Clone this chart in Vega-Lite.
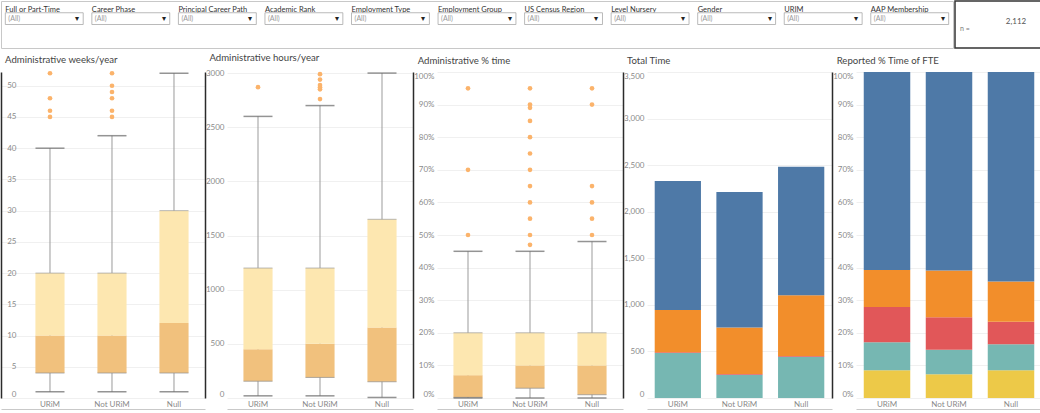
{
  "$schema": "https://vega.github.io/schema/vega-lite/v6.json",
  "padding": 0,
  "background": "white",
  "config": {
    "font": "Lato",
    "view": {"stroke": null},
    "axis": {"labelFont": "Lato", "labelFontSize": 8, "labelColor": "#8a8a8a", "ticks": false, "domain": false, "title": null, "gridColor": "#f0f0f0", "gridWidth": 1},
    "title": {"font": "Lato", "fontSize": 9.6, "fontWeight": "normal", "color": "#444444", "anchor": "start", "frame": "bounds", "offset": 6, "dx": 4},
    "text": {"font": "Lato"}
  },
  "datasets": {
    "filters": [
      {"filter": "Full or Part-Time", "selection": "(All)"},
      {"filter": "Career Phase", "selection": "(All)"},
      {"filter": "Principal Career Path", "selection": "(All)"},
      {"filter": "Academic Rank", "selection": "(All)"},
      {"filter": "Employment Type", "selection": "(All)"},
      {"filter": "Employment Group", "selection": "(All)"},
      {"filter": "US Census Region", "selection": "(All)"},
      {"filter": "Level Nursery", "selection": "(All)"},
      {"filter": "Gender", "selection": "(All)"},
      {"filter": "URIM", "selection": "(All)"},
      {"filter": "AAP Membership", "selection": "(All)"}
    ],
    "weeksStats": [
      {"g": "URiM", "lo": 1, "q1": 4, "med": 10, "q3": 20, "hi": 40},
      {"g": "Not URiM", "lo": 1, "q1": 4, "med": 10, "q3": 20, "hi": 42},
      {"g": "Null", "lo": 1, "q1": 4, "med": 12, "q3": 30, "hi": 52}
    ],
    "weeksOut": [
      {"g": "URiM", "v": 45}, {"g": "URiM", "v": 46}, {"g": "URiM", "v": 48}, {"g": "URiM", "v": 52},
      {"g": "Not URiM", "v": 45}, {"g": "Not URiM", "v": 46}, {"g": "Not URiM", "v": 48}, {"g": "Not URiM", "v": 49}, {"g": "Not URiM", "v": 50}, {"g": "Not URiM", "v": 52}
    ],
    "hoursStats": [
      {"g": "URiM", "lo": 20, "q1": 155, "med": 450, "q3": 1200, "hi": 2600},
      {"g": "Not URiM", "lo": 20, "q1": 190, "med": 500, "q3": 1200, "hi": 2700},
      {"g": "Null", "lo": 5, "q1": 150, "med": 650, "q3": 1650, "hi": 3000}
    ],
    "hoursOut": [
      {"g": "URiM", "v": 2870},
      {"g": "Not URiM", "v": 2760}, {"g": "Not URiM", "v": 2850}, {"g": "Not URiM", "v": 2870}, {"g": "Not URiM", "v": 2890}, {"g": "Not URiM", "v": 2940}, {"g": "Not URiM", "v": 2990}
    ],
    "pctStats": [
      {"g": "URiM", "lo": 0, "q1": 0.002, "med": 0.07, "q3": 0.2, "hi": 0.45},
      {"g": "Not URiM", "lo": 0, "q1": 0.03, "med": 0.1, "q3": 0.2, "hi": 0.45},
      {"g": "Null", "lo": 0, "q1": 0.01, "med": 0.1, "q3": 0.2, "hi": 0.48}
    ],
    "pctOut": [
      {"g": "URiM", "v": 0.5}, {"g": "URiM", "v": 0.7}, {"g": "URiM", "v": 0.95},
      {"g": "Not URiM", "v": 0.47}, {"g": "Not URiM", "v": 0.5}, {"g": "Not URiM", "v": 0.55}, {"g": "Not URiM", "v": 0.6}, {"g": "Not URiM", "v": 0.65}, {"g": "Not URiM", "v": 0.7}, {"g": "Not URiM", "v": 0.75}, {"g": "Not URiM", "v": 0.8}, {"g": "Not URiM", "v": 0.85}, {"g": "Not URiM", "v": 0.89}, {"g": "Not URiM", "v": 0.9}, {"g": "Not URiM", "v": 0.95},
      {"g": "Null", "v": 0.5}, {"g": "Null", "v": 0.55}, {"g": "Null", "v": 0.6}, {"g": "Null", "v": 0.65}, {"g": "Null", "v": 0.9}, {"g": "Null", "v": 0.95}
    ],
    "total": [
      {"g": "URiM", "activity": "Service", "hours": 482},
      {"g": "URiM", "activity": "Research", "hours": 10},
      {"g": "URiM", "activity": "Education", "hours": 454},
      {"g": "URiM", "activity": "Clinical", "hours": 1385},
      {"g": "Not URiM", "activity": "Service", "hours": 250},
      {"g": "Not URiM", "activity": "Research", "hours": 7},
      {"g": "Not URiM", "activity": "Education", "hours": 500},
      {"g": "Not URiM", "activity": "Clinical", "hours": 1454},
      {"g": "Null", "activity": "Service", "hours": 443},
      {"g": "Null", "activity": "Research", "hours": 7},
      {"g": "Null", "activity": "Education", "hours": 654},
      {"g": "Null", "activity": "Clinical", "hours": 1378}
    ],
    "fte": [
      {"g": "URiM", "activity": "Unallocated", "share": 0.085},
      {"g": "URiM", "activity": "Service", "share": 0.086},
      {"g": "URiM", "activity": "Research", "share": 0.108},
      {"g": "URiM", "activity": "Education", "share": 0.114},
      {"g": "URiM", "activity": "Clinical", "share": 0.607},
      {"g": "Not URiM", "activity": "Unallocated", "share": 0.073},
      {"g": "Not URiM", "activity": "Service", "share": 0.075},
      {"g": "Not URiM", "activity": "Research", "share": 0.1},
      {"g": "Not URiM", "activity": "Education", "share": 0.143},
      {"g": "Not URiM", "activity": "Clinical", "share": 0.609},
      {"g": "Null", "activity": "Unallocated", "share": 0.085},
      {"g": "Null", "activity": "Service", "share": 0.08},
      {"g": "Null", "activity": "Research", "share": 0.069},
      {"g": "Null", "activity": "Education", "share": 0.123},
      {"g": "Null", "activity": "Clinical", "share": 0.643}
    ]
  },
  "concat": [
    {
      "hconcat": [
        {
          "width": 952,
          "height": 47,
          "view": {"stroke": "#c8c8c8"},
          "data": {"name": "filters"},
          "layer": [
            {
              "mark": {"type": "text", "align": "left", "fontSize": 7.5, "color": "#333333", "dy": 3},
              "encoding": {
                "x": {"field": "filter", "type": "nominal", "sort": null, "bandPosition": 0, "scale": {"paddingInner": 0.1, "paddingOuter": 0.05}, "axis": null},
                "y": {"datum": "label", "type": "nominal", "scale": {"domain": ["label", "box", "r3", "r4"], "paddingInner": 0, "paddingOuter": 0}, "axis": null},
                "text": {"field": "filter"}
              }
            },
            {
              "mark": {"type": "rect", "fill": "white", "stroke": "#a8a8a8", "strokeWidth": 0.8},
              "encoding": {
                "x": {"field": "filter", "type": "nominal", "sort": null, "axis": null},
                "y": {"datum": "box", "type": "nominal", "axis": null}
              }
            },
            {
              "mark": {"type": "text", "align": "left", "dx": 3, "fontSize": 7, "color": "#9a9a9a"},
              "encoding": {
                "x": {"field": "filter", "type": "nominal", "sort": null, "bandPosition": 0, "axis": null},
                "y": {"datum": "box", "type": "nominal", "axis": null},
                "text": {"field": "selection"}
              }
            },
            {
              "mark": {"type": "text", "align": "center", "dx": -6, "fontSize": 8, "color": "#222222"},
              "encoding": {
                "x": {"field": "filter", "type": "nominal", "sort": null, "bandPosition": 1, "axis": null},
                "y": {"datum": "box", "type": "nominal", "axis": null},
                "text": {"value": "▾"}
              }
            }
          ]
        },
        {
          "width": 86,
          "height": 47,
          "view": {"stroke": "#333333", "strokeWidth": 1.5},
          "data": {"values": [{"label": "n =", "n": 2112}]},
          "layer": [
            {"mark": {"type": "text", "align": "left", "dx": -38, "dy": 4, "fontSize": 7, "color": "#777777"}, "encoding": {"text": {"field": "label"}}},
            {"mark": {"type": "text", "align": "center", "dx": 18, "dy": -3, "fontSize": 8, "color": "#555555"}, "encoding": {"text": {"field": "n", "type": "quantitative", "format": ","}}}
          ]
        }
      ],
      "spacing": 0
    },
    {
      "hconcat": [
        {
          "width": 204,
          "height": 326,
          "title": {"text": "Administrative weeks/year"},
          "layer": [
            {"data": {"name": "weeksStats"}, "mark": {"type": "rule", "color": "#9b9b9b", "strokeWidth": 1},
             "encoding": {"x": {"field": "g", "type": "nominal", "title": null, "scale": {"domain": ["URiM", "Not URiM", "Null"], "paddingInner": 0, "paddingOuter": 0.145, "align": 1}, "axis": {"labelAngle": 0, "labelPadding": 2, "labelBaseline": "top"}},
                          "y": {"field": "lo", "type": "quantitative", "scale": {"domain": [0, 52.2], "nice": false, "zero": false}, "axis": {"orient": "left", "values": [0, 5, 10, 15, 20, 25, 30, 35, 40, 45, 50], "grid": true, "labelFlush": true, "labelAlign": "right", "labelPadding": -15, "minExtent": 0, "maxExtent": 0, "domain": true, "domainColor": "#2b2b2b", "domainWidth": 1.5}},
                          "y2": {"field": "hi"}}},
            {"data": {"name": "weeksStats"}, "mark": {"type": "bar", "width": {"band": 0.47}, "color": "#F1C17D"},
             "encoding": {"x": {"field": "g", "type": "nominal", "axis": null}, "y": {"field": "q1", "type": "quantitative", "axis": null}, "y2": {"field": "med"}}},
            {"data": {"name": "weeksStats"}, "mark": {"type": "bar", "width": {"band": 0.47}, "color": "#FDE7B0"},
             "encoding": {"x": {"field": "g", "type": "nominal", "axis": null}, "y": {"field": "med", "type": "quantitative", "axis": null}, "y2": {"field": "q3"}}},
            {"data": {"name": "weeksStats"}, "mark": {"type": "tick", "size": 29, "thickness": 1, "color": "#8f8f8f"},
             "encoding": {"x": {"field": "g", "type": "nominal", "axis": null}, "y": {"field": "q1", "type": "quantitative", "axis": null}}},
            {"data": {"name": "weeksStats"}, "mark": {"type": "tick", "size": 29, "thickness": 1, "color": "#9b9b9b"},
             "encoding": {"x": {"field": "g", "type": "nominal", "axis": null}, "y": {"field": "q3", "type": "quantitative", "axis": null}}},
            {"data": {"name": "weeksStats"}, "mark": {"type": "tick", "size": 29, "thickness": 1.5, "color": "#666666"},
             "encoding": {"x": {"field": "g", "type": "nominal", "axis": null}, "y": {"field": "lo", "type": "quantitative", "axis": null}}},
            {"data": {"name": "weeksStats"}, "mark": {"type": "tick", "size": 29, "thickness": 1.5, "color": "#666666"},
             "encoding": {"x": {"field": "g", "type": "nominal", "axis": null}, "y": {"field": "hi", "type": "quantitative", "axis": null}}},
            {"data": {"name": "weeksOut"}, "mark": {"type": "circle", "size": 22, "color": "#FBB36B", "opacity": 1},
             "encoding": {"x": {"field": "g", "type": "nominal", "axis": {"orient": "bottom", "offset": 12, "labels": false, "ticks": false, "grid": false, "domain": true, "domainColor": "#2b2b2b", "domainWidth": 1.5}},
                          "y": {"field": "v", "type": "quantitative", "axis": {"orient": "right", "labels": false, "ticks": false, "grid": false, "domain": true, "domainColor": "#2b2b2b", "domainWidth": 1.5, "minExtent": 0, "maxExtent": 0}}}}
          ],
          "resolve": {"axis": {"y": "independent", "x": "independent"}}
        },
        {
          "width": 186,
          "height": 326,
          "title": {"text": "Administrative hours/year"},
          "layer": [
            {"data": {"name": "hoursStats"}, "mark": {"type": "rule", "color": "#9b9b9b", "strokeWidth": 1},
             "encoding": {"x": {"field": "g", "type": "nominal", "title": null, "scale": {"domain": ["URiM", "Not URiM", "Null"], "paddingInner": 0, "paddingOuter": 0}, "axis": {"labelAngle": 0, "labelPadding": 2, "labelBaseline": "top"}},
                          "y": {"field": "lo", "type": "quantitative", "scale": {"domain": [0, 3010], "nice": false, "zero": false}, "axis": {"orient": "left", "values": [0, 500, 1000, 1500, 2000, 2500, 3000], "format": "d", "grid": true, "labelFlush": true, "labelPadding": 3, "minExtent": 21, "maxExtent": 21}},
                          "y2": {"field": "hi"}}},
            {"data": {"name": "hoursStats"}, "mark": {"type": "bar", "width": {"band": 0.47}, "color": "#F1C17D"},
             "encoding": {"x": {"field": "g", "type": "nominal", "axis": null}, "y": {"field": "q1", "type": "quantitative", "axis": null}, "y2": {"field": "med"}}},
            {"data": {"name": "hoursStats"}, "mark": {"type": "bar", "width": {"band": 0.47}, "color": "#FDE7B0"},
             "encoding": {"x": {"field": "g", "type": "nominal", "axis": null}, "y": {"field": "med", "type": "quantitative", "axis": null}, "y2": {"field": "q3"}}},
            {"data": {"name": "hoursStats"}, "mark": {"type": "tick", "size": 29, "thickness": 1, "color": "#8f8f8f"},
             "encoding": {"x": {"field": "g", "type": "nominal", "axis": null}, "y": {"field": "q1", "type": "quantitative", "axis": null}}},
            {"data": {"name": "hoursStats"}, "mark": {"type": "tick", "size": 29, "thickness": 1, "color": "#9b9b9b"},
             "encoding": {"x": {"field": "g", "type": "nominal", "axis": null}, "y": {"field": "q3", "type": "quantitative", "axis": null}}},
            {"data": {"name": "hoursStats"}, "mark": {"type": "tick", "size": 29, "thickness": 1.5, "color": "#666666"},
             "encoding": {"x": {"field": "g", "type": "nominal", "axis": null}, "y": {"field": "lo", "type": "quantitative", "axis": null}}},
            {"data": {"name": "hoursStats"}, "mark": {"type": "tick", "size": 29, "thickness": 1.5, "color": "#666666"},
             "encoding": {"x": {"field": "g", "type": "nominal", "axis": null}, "y": {"field": "hi", "type": "quantitative", "axis": null}}},
            {"data": {"name": "hoursOut"}, "mark": {"type": "circle", "size": 22, "color": "#FBB36B", "opacity": 1},
             "encoding": {"x": {"field": "g", "type": "nominal", "axis": {"orient": "bottom", "offset": 12, "labels": false, "ticks": false, "grid": false, "domain": true, "domainColor": "#2b2b2b", "domainWidth": 1.5}},
                          "y": {"field": "v", "type": "quantitative", "axis": {"orient": "right", "labels": false, "ticks": false, "grid": false, "domain": true, "domainColor": "#2b2b2b", "domainWidth": 1.5, "minExtent": 0, "maxExtent": 0}}}}
          ],
          "resolve": {"axis": {"y": "independent", "x": "independent"}}
        },
        {
          "width": 186,
          "height": 326,
          "title": {"text": "Administrative % time"},
          "layer": [
            {"data": {"name": "pctStats"}, "mark": {"type": "rule", "color": "#9b9b9b", "strokeWidth": 1},
             "encoding": {"x": {"field": "g", "type": "nominal", "title": null, "scale": {"domain": ["URiM", "Not URiM", "Null"], "paddingInner": 0, "paddingOuter": 0}, "axis": {"labelAngle": 0, "labelPadding": 2, "labelBaseline": "top"}},
                          "y": {"field": "lo", "type": "quantitative", "scale": {"domain": [0, 1], "nice": false, "zero": false}, "axis": {"orient": "left", "values": [0, 0.1, 0.2, 0.3, 0.4, 0.5, 0.6, 0.7, 0.8, 0.9, 1], "format": ".0%", "grid": true, "labelFlush": true, "labelPadding": 3, "minExtent": 22, "maxExtent": 22}},
                          "y2": {"field": "hi"}}},
            {"data": {"name": "pctStats"}, "mark": {"type": "bar", "width": {"band": 0.47}, "color": "#F1C17D"},
             "encoding": {"x": {"field": "g", "type": "nominal", "axis": null}, "y": {"field": "q1", "type": "quantitative", "axis": null}, "y2": {"field": "med"}}},
            {"data": {"name": "pctStats"}, "mark": {"type": "bar", "width": {"band": 0.47}, "color": "#FDE7B0"},
             "encoding": {"x": {"field": "g", "type": "nominal", "axis": null}, "y": {"field": "med", "type": "quantitative", "axis": null}, "y2": {"field": "q3"}}},
            {"data": {"name": "pctStats"}, "mark": {"type": "tick", "size": 29, "thickness": 1, "color": "#8f8f8f"},
             "encoding": {"x": {"field": "g", "type": "nominal", "axis": null}, "y": {"field": "q1", "type": "quantitative", "axis": null}}},
            {"data": {"name": "pctStats"}, "mark": {"type": "tick", "size": 29, "thickness": 1, "color": "#9b9b9b"},
             "encoding": {"x": {"field": "g", "type": "nominal", "axis": null}, "y": {"field": "q3", "type": "quantitative", "axis": null}}},
            {"data": {"name": "pctStats"}, "mark": {"type": "tick", "size": 29, "thickness": 1.5, "color": "#666666"},
             "encoding": {"x": {"field": "g", "type": "nominal", "axis": null}, "y": {"field": "lo", "type": "quantitative", "axis": null}}},
            {"data": {"name": "pctStats"}, "mark": {"type": "tick", "size": 29, "thickness": 1.5, "color": "#666666"},
             "encoding": {"x": {"field": "g", "type": "nominal", "axis": null}, "y": {"field": "hi", "type": "quantitative", "axis": null}}},
            {"data": {"name": "pctOut"}, "mark": {"type": "circle", "size": 22, "color": "#FBB36B", "opacity": 1},
             "encoding": {"x": {"field": "g", "type": "nominal", "axis": {"orient": "bottom", "offset": 12, "labels": false, "ticks": false, "grid": false, "domain": true, "domainColor": "#2b2b2b", "domainWidth": 1.5}},
                          "y": {"field": "v", "type": "quantitative", "axis": {"orient": "right", "labels": false, "ticks": false, "grid": false, "domain": true, "domainColor": "#2b2b2b", "domainWidth": 1.5, "minExtent": 0, "maxExtent": 0}}}}
          ],
          "resolve": {"axis": {"y": "independent", "x": "independent"}}
        },
        {
          "width": 185,
          "height": 326,
          "title": {"text": "Total Time"},
          "data": {"name": "total"},
          "layer": [
            {"mark": {"type": "bar", "width": {"band": 0.75}},
             "encoding": {"x": {"field": "g", "type": "nominal", "title": null, "scale": {"domain": ["URiM", "Not URiM", "Null"], "paddingInner": 0, "paddingOuter": 0}, "axis": {"labelAngle": 0, "labelPadding": 2, "labelBaseline": "top"}},
                          "y": {"field": "hours", "type": "quantitative", "stack": "zero", "scale": {"domain": [0, 3500], "nice": false}, "axis": {"orient": "left", "values": [0, 500, 1000, 1500, 2000, 2500, 3000, 3500], "format": ",.0f", "grid": true, "labelFlush": true, "labelPadding": 3, "minExtent": 24, "maxExtent": 24}},
                          "color": {"field": "activity", "type": "nominal", "scale": {"domain": ["Unallocated", "Service", "Research", "Education", "Clinical"], "range": ["#EDC948", "#76B7B2", "#E15759", "#F28E2B", "#4E79A7"]}, "legend": null},
                          "order": {"field": "activity", "sort": "descending"}}},
            {"mark": {"type": "rule", "strokeOpacity": 0},
             "encoding": {"x": {"field": "g", "type": "nominal", "axis": {"orient": "bottom", "offset": 12, "labels": false, "ticks": false, "grid": false, "domain": true, "domainColor": "#2b2b2b", "domainWidth": 1.5}},
                          "y": {"datum": 0, "type": "quantitative", "axis": {"orient": "right", "labels": false, "ticks": false, "grid": false, "domain": true, "domainColor": "#2b2b2b", "domainWidth": 1.5, "minExtent": 0, "maxExtent": 0}}}}
          ],
          "resolve": {"axis": {"y": "independent", "x": "independent"}}
        },
        {
          "width": 186,
          "height": 326,
          "title": {"text": "Reported % Time of FTE"},
          "data": {"name": "fte"},
          "layer": [
            {"mark": {"type": "bar", "width": {"band": 0.75}},
             "encoding": {"x": {"field": "g", "type": "nominal", "title": null, "scale": {"domain": ["URiM", "Not URiM", "Null"], "paddingInner": 0, "paddingOuter": 0}, "axis": {"labelAngle": 0, "labelPadding": 2, "labelBaseline": "top"}},
                          "y": {"field": "share", "type": "quantitative", "stack": "zero", "scale": {"domain": [0, 1], "nice": false}, "axis": {"orient": "left", "values": [0, 0.1, 0.2, 0.3, 0.4, 0.5, 0.6, 0.7, 0.8, 0.9, 1], "format": ".0%", "grid": true, "labelFlush": true, "labelPadding": 3, "minExtent": 23, "maxExtent": 23}},
                          "color": {"field": "activity", "type": "nominal", "scale": {"domain": ["Unallocated", "Service", "Research", "Education", "Clinical"], "range": ["#EDC948", "#76B7B2", "#E15759", "#F28E2B", "#4E79A7"]}, "legend": null},
                          "order": {"field": "activity", "sort": "descending"}}},
            {"mark": {"type": "rule", "strokeOpacity": 0},
             "encoding": {"x": {"field": "g", "type": "nominal", "axis": {"orient": "bottom", "offset": 12, "labels": false, "ticks": false, "grid": false, "domain": true, "domainColor": "#2b2b2b", "domainWidth": 1.5}},
                          "y": {"datum": 0, "type": "quantitative", "axis": {"orient": "right", "labels": false, "ticks": false, "grid": false, "domain": true, "domainColor": "#2b2b2b", "domainWidth": 1.5, "minExtent": 0, "maxExtent": 0}}}}
          ],
          "resolve": {"axis": {"y": "independent", "x": "independent"}}
        }
      ],
      "spacing": 0
    }
  ],
  "columns": 1,
  "align": "none",
  "spacing": 4
}
